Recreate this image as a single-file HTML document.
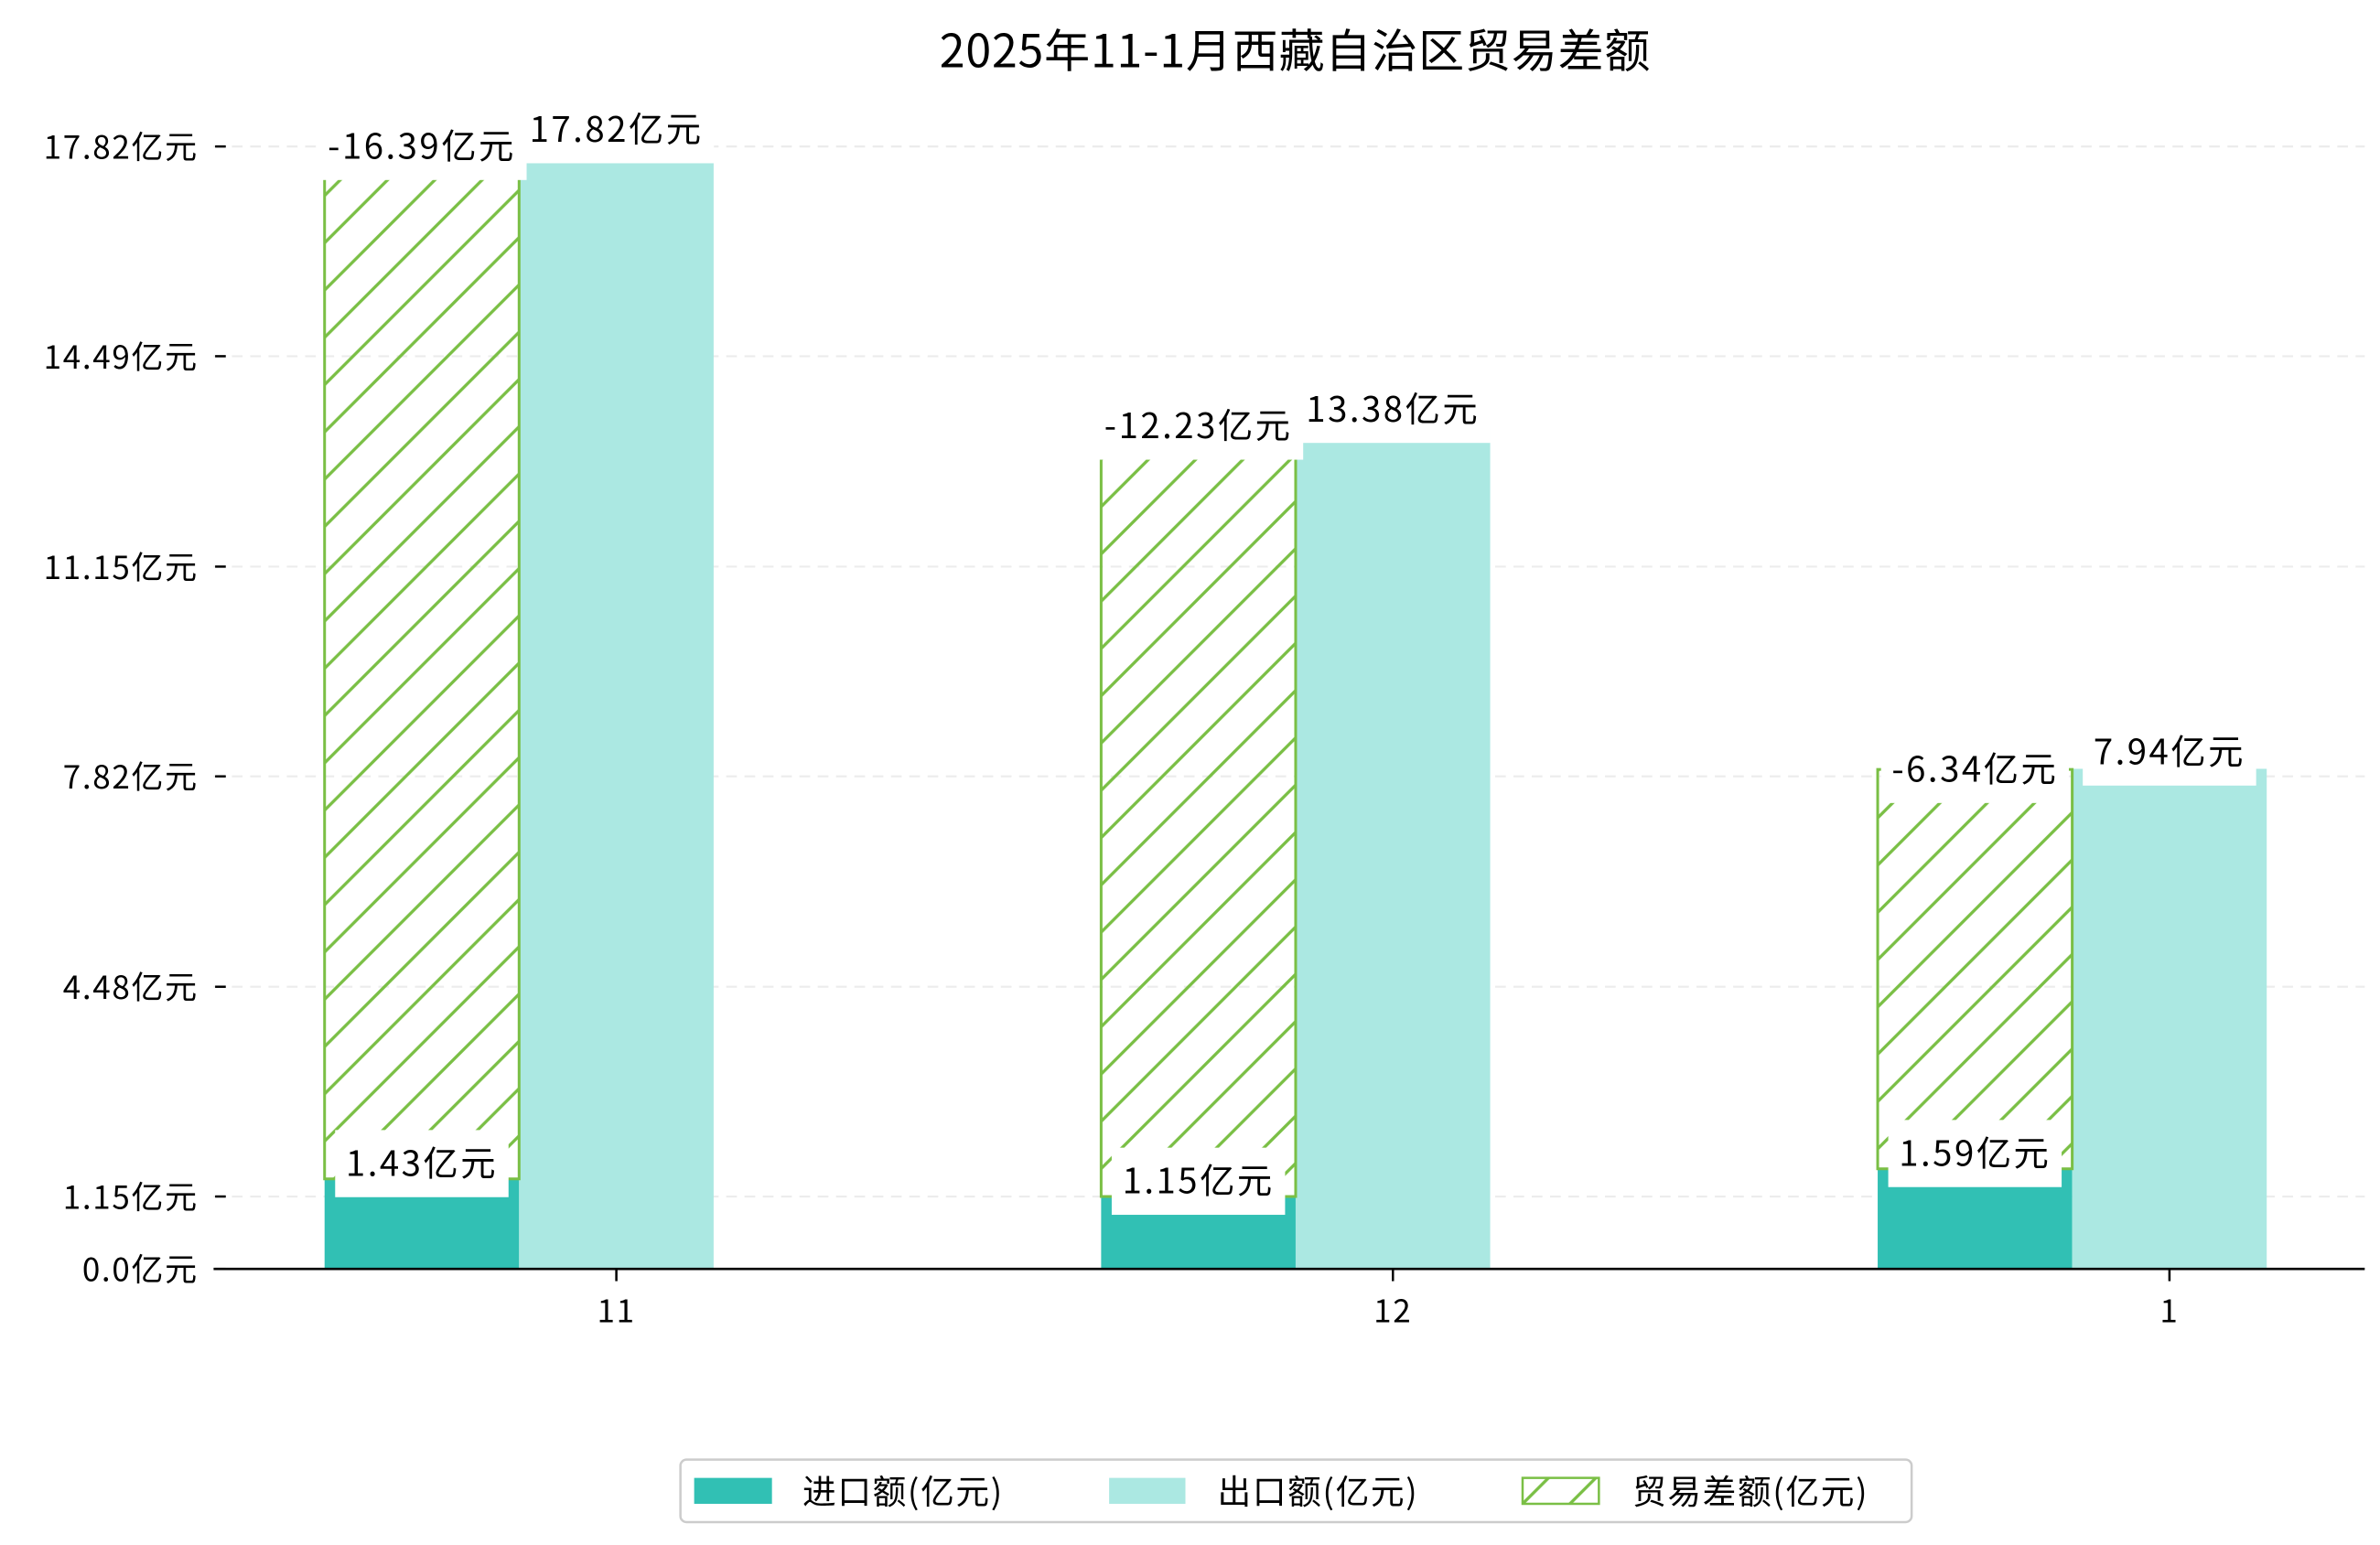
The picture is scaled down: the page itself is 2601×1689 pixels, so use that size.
<!DOCTYPE html>
<html><head><meta charset="utf-8"><style>
html,body{margin:0;padding:0;background:#fff;}
svg{display:block;font-family:"WenQuanYi Zen Hei","Noto Sans CJK SC",sans-serif;}
</style></head><body>
<svg id="chart" width="2601" height="1689" viewBox="0 0 1560 1013" preserveAspectRatio="none" xmlns="http://www.w3.org/2000/svg">
<defs>
<pattern id="hatch" patternUnits="userSpaceOnUse" width="31" height="31">
<line x1="-5" y1="36" x2="36" y2="-5" stroke="#7abf45" stroke-width="2"/>
<line x1="-36" y1="36" x2="5" y2="-5" stroke="#7abf45" stroke-width="2"/>
<line x1="26" y1="36" x2="67" y2="-5" stroke="#7abf45" stroke-width="2"/>
</pattern>
</defs>
<rect width="1560" height="1013" fill="#fff"/>
<text x="849" y="44" font-size="30" text-anchor="middle" fill="#000" letter-spacing="0.5">2025年11-1月西藏自治区贸易差额</text>
<g id="grid"></g><g id="bars"></g><g id="labels"></g><g id="axes"></g>
<g>
<rect x="446" y="957" width="807" height="41" rx="4" fill="#fff" stroke="#ccc" stroke-width="1.5"/>
<rect x="455" y="969" width="51" height="17" fill="#31c0b4"/>
<text x="526" y="986" font-size="22" letter-spacing="1">进口额(亿元)</text>
<rect x="727" y="969" width="50" height="17" fill="#abe8e2"/>
<text x="798" y="986" font-size="22" letter-spacing="1">出口额(亿元)</text>
<rect x="998" y="969" width="50" height="17" fill="url(#hatch)" stroke="#7abf45" stroke-width="1.5"/>
<text x="1070" y="986" font-size="22" letter-spacing="1">贸易差额(亿元)</text>
</g>
</svg>
<script>
const months = ['11','12','1'];
const importVals = [1.43, 1.15, 1.59];
const exportVals = [17.82, 13.38, 7.94];
const balanceVals = [-16.39, -12.23, -6.34];
const yTicks = [0, 1.15, 4.48, 7.82, 11.15, 14.49, 17.82];
const yTickLabels = ['0.0亿元','1.15亿元','4.48亿元','7.82亿元','11.15亿元','14.49亿元','17.82亿元'];

const NS='http://www.w3.org/2000/svg';
const X0=140, X1=1550, Y0=832, PXU=41.3, C0=404, STEP=509, BW=127.5;
function yS(v){return Y0 - v*PXU;}
function xS(i){return C0 + i*STEP;}
function mk(tag, attrs, parent){const e=document.createElementNS(NS,tag);for(const k in attrs)e.setAttribute(k,attrs[k]);parent.appendChild(e);return e;}
const grid=document.getElementById('grid'), bars=document.getElementById('bars'), labels=document.getElementById('labels'), axes=document.getElementById('axes');

yTicks.forEach((t,i)=>{
  const y=yS(t);
  if(t>0){const g=mk('line',{x1:X0,x2:X1,y1:y,y2:y,stroke:'#ececec','stroke-width':1.3,'stroke-dasharray':'7,5'},grid);
  
  }
  const tk=mk('line',{x1:141,x2:148,y1:y,y2:y,stroke:'#000','stroke-width':1.5},axes);
  
  
  const tl=mk('text',{x:130,y:y+8,'font-size':21,'text-anchor':'end','letter-spacing':1},axes);
  tl.textContent=yTickLabels[i];
  
  
});
const ax=mk('line',{x1:X0,x2:X1,y1:Y0,y2:Y0,stroke:'#000','stroke-width':1.6},axes);



function label(txt,cx,cy,name){
  const r=mk('rect',{fill:'#fff'},labels);
  
  
  const t=mk('text',{x:cx,y:cy+8,'font-size':23,'text-anchor':'middle','letter-spacing':1.5},labels);
  t.textContent=txt;
  
  
  const w=t.getComputedTextLength()+14;
  r.setAttribute('x',cx-w/2);r.setAttribute('width',w);
  r.setAttribute('y',cy-22);r.setAttribute('height',44);
}

months.forEach((m,i)=>{
  const c=xS(i);
  const im=mk('rect',{x:c-1.5*BW,y:yS(importVals[i]),width:BW,height:importVals[i]*PXU,fill:'#31c0b4'},bars);
  
  
  const ex=mk('rect',{x:c-0.5*BW,y:yS(exportVals[i]),width:BW,height:exportVals[i]*PXU,fill:'#abe8e2'},bars);
  
  
  const b=Math.abs(balanceVals[i]);
  const hb=mk('rect',{x:c-1.5*BW,y:yS(importVals[i]+b),width:BW,height:b*PXU,fill:'url(#hatch)',stroke:'#7abf45','stroke-width':1.8},bars);
  
  
  label(importVals[i].toFixed(2)+'亿元',c-BW,yS(importVals[i])-10,'import-value-label');
  label(exportVals[i].toFixed(2)+'亿元',c,yS(exportVals[i])-11,'export-value-label');
  label(balanceVals[i].toFixed(2)+'亿元',c-BW,yS(importVals[i]+b),'balance-value-label');
  const tk=mk('line',{x1:c,x2:c,y1:Y0,y2:Y0+8,stroke:'#000','stroke-width':1.5},axes);
  
  
  const tl=mk('text',{x:c,y:867,'font-size':21,'text-anchor':'middle','letter-spacing':1},axes);
  tl.textContent=m;
  
  
});
</script>
</body></html>
